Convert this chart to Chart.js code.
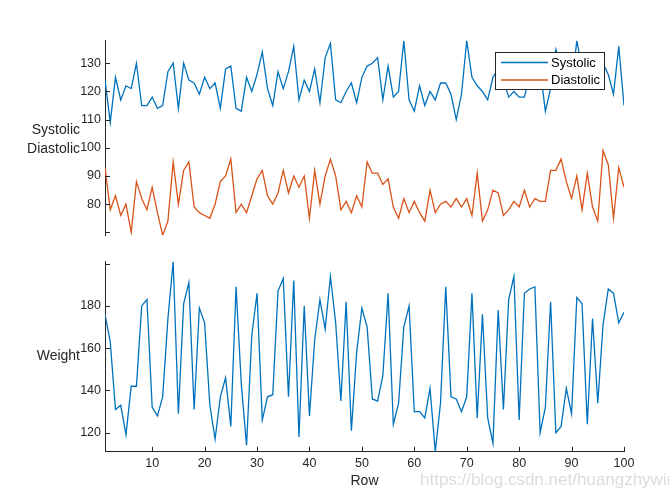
<!DOCTYPE html>
<html>
<head>
<meta charset="utf-8">
<title>Stacked plot</title>
<script src="https://cdn.jsdelivr.net/npm/chart.js@4.4.1/dist/chart.umd.min.js"></script>
<style>
  html, body { margin: 0; padding: 0; background: #fff; overflow: hidden; }
  #wrap { position: relative; width: 669px; height: 497px; overflow: hidden;
          font-family: "Liberation Sans", Arial, sans-serif; color: #262626; }
  #wrap canvas { position: absolute; left: 0; }
  .lbl { position: absolute; font-size: 14px; line-height: 19px; text-align: right; white-space: nowrap; }
  .mark { position: absolute; font-size: 17px; line-height: 20px; color: #dcdcdc; white-space: nowrap; }
</style>
</head>
<body>
<div id="wrap">
  <canvas id="topChart" width="669" height="250" style="top:0"></canvas>
  <canvas id="bottomChart" width="669" height="247" style="top:250px"></canvas>
  <div class="lbl" style="right:589px; top:120px">Systolic<br>Diastolic</div>
  <div class="lbl" style="right:589px; top:346px">Weight</div>
  <div class="mark" style="left:420px; top:470px">https://blog.csdn.net/huangzhywin</div>
</div>
<script>
// values, one per row (rows 1..100)
const systolic = [124, 109, 125, 117, 122, 121, 130, 115, 115, 118,
                  114, 115, 127, 130, 114, 130, 124, 123, 119, 125,
                  121, 123, 114, 128, 129, 114, 113, 125, 120, 126,
                  134, 121, 115, 127, 121, 127, 136, 117, 124, 120,
                  128, 116, 132, 137, 117, 116, 120, 123, 116, 125,
                  129, 130, 132, 117, 129, 118, 120, 138, 117, 113,
                  122, 115, 120, 117, 123, 123, 119, 110, 119, 138,
                  125, 122, 120, 117, 125, 128, 124, 118, 120, 118,
                  118, 126, 130, 128, 113, 121, 135, 129, 124, 122,
                  138, 128, 124, 123, 126, 130, 126, 119, 136, 115];

const diastolic = [93, 78, 83, 76, 80, 70, 88, 82, 78, 86,
                   77, 69, 74, 95, 80, 92, 95, 79, 77, 76,
                   75, 80, 88, 90, 96, 77, 80, 77, 83, 89,
                   92, 83, 80, 84, 92, 84, 90, 86, 90, 75,
                   92, 80, 90, 96, 90, 78, 81, 77, 83, 79,
                   95, 91, 91, 87, 89, 79, 75, 82, 77, 81,
                   77, 74, 85, 77, 80, 81, 79, 82, 79, 82,
                   76, 91, 74, 78, 85, 84, 76, 78, 81, 79,
                   85, 79, 82, 81, 81, 92, 92, 96, 88, 82,
                   90, 78, 91, 79, 74, 99, 94, 75, 93, 86];

const weight = [176, 163, 131, 133, 119, 142, 142, 180, 183, 132,
                128, 137, 174, 201, 129, 181, 191, 131, 179, 172,
                133, 117, 137, 146, 123, 189, 143, 114, 166, 186,
                126, 137, 138, 187, 193, 137, 192, 118, 180, 128,
                164, 183, 169, 194, 172, 135, 182, 121, 158, 179,
                170, 136, 135, 147, 186, 124, 134, 170, 180, 130,
                130, 127, 141, 111, 134, 189, 137, 136, 130, 137,
                186, 127, 176, 127, 115, 178, 131, 183, 194, 126,
                186, 188, 189, 120, 132, 182, 120, 123, 141, 129,
                184, 181, 124, 174, 134, 171, 188, 186, 172, 177];

const rowTicks = [10, 20, 30, 40, 50, 60, 70, 80, 90, 100];
const bpTicks = [70, 80, 90, 100, 110, 120, 130];
const bpTickLabels = ['', '80', '90', '100', '110', '120', '130'];
const weightTicks = [120, 140, 160, 180, 200];
const weightTickLabels = ['120', '140', '160', '180', ''];

const axisColor = '#262626';
const fontFamily = '"Liberation Sans", Arial, sans-serif';
const blue = '#0072BD';
const orange = '#D95319';

const toPoints = arr => arr.map((v, i) => ({ x: i + 1, y: v }));

// MATLAB style tick marks pointing into the plot
const inwardTicks = {
  id: 'inwardTicks',
  afterDraw(chart) {
    const ctx = chart.ctx;
    ctx.save();
    ctx.strokeStyle = axisColor;
    ctx.lineWidth = 1;
    ctx.beginPath();
    const ys = chart.scales.y;
    ys.ticks.forEach(t => {
      const py = Math.round(ys.getPixelForValue(t.value)) + 0.5;
      ctx.moveTo(ys.right, py);
      ctx.lineTo(ys.right + 5, py);
    });
    const xs = chart.scales.x;
    if (xs.options.display) {
      xs.ticks.forEach(t => {
        const px = Math.round(xs.getPixelForValue(t.value)) + 0.5;
        ctx.moveTo(px, xs.top);
        ctx.lineTo(px, xs.top - 5);
      });
    }
    ctx.stroke();
    ctx.restore();
  }
};

// legend box drawn inside the top panel
const boxLegend = {
  id: 'boxLegend',
  afterDatasetsDraw(chart) {
    const ctx = chart.ctx;
    ctx.save();
    ctx.fillStyle = '#fff';
    ctx.fillRect(495.5, 52.5, 109, 37);
    ctx.strokeStyle = axisColor;
    ctx.lineWidth = 1;
    ctx.strokeRect(495.5, 52.5, 109, 37);
    ctx.font = '13px ' + fontFamily;
    ctx.textBaseline = 'middle';
    chart.data.datasets.forEach((ds, i) => {
      const y = 62.5 + i * 17.5;
      ctx.strokeStyle = ds.borderColor;
      ctx.lineWidth = 1.3;
      ctx.beginPath();
      ctx.moveTo(501, y);
      ctx.lineTo(548, y);
      ctx.stroke();
      ctx.fillStyle = '#000';
      ctx.fillText(ds.label, 551, y + 0.5);
    });
    ctx.restore();
  }
};

function xScale(show) {
  const s = {
    type: 'linear',
    min: 1,
    max: 100,
    display: show,
    afterBuildTicks: sc => { sc.ticks = rowTicks.map(v => ({ value: v })); },
    grid: { display: false, drawTicks: false },
    border: { display: true, color: axisColor, width: 1 },
    ticks: { padding: 4, color: axisColor, font: { family: fontFamily, size: 12.5 }, maxRotation: 0 },
    title: { display: true, text: 'Row', color: axisColor, padding: 0,
             font: { family: fontFamily, size: 14 } }
  };
  if (show) s.afterFit = sc => { sc.height = 37.6; };
  return s;
}

function yScale(min, max, tickVals, tickLabels) {
  return {
    type: 'linear',
    min: min,
    max: max,
    afterBuildTicks: s => { s.ticks = tickVals.map(v => ({ value: v })); },
    afterFit: s => { s.width = 105; },
    grid: { display: false, drawTicks: false },
    border: { display: true, color: axisColor, width: 1 },
    ticks: { padding: 4, color: axisColor, font: { family: fontFamily, size: 12.5 },
             callback: (v, i) => tickLabels[i] }
  };
}

const common = {
  responsive: false,
  animation: false,
  devicePixelRatio: 1,
  plugins: { legend: { display: false }, tooltip: { enabled: false } },
  elements: { point: { radius: 0 }, line: { tension: 0, borderWidth: 1.3 } }
};

new Chart(document.getElementById('topChart'), {
  type: 'line',
  data: {
    datasets: [
      { label: 'Systolic', data: toPoints(systolic), borderColor: blue, backgroundColor: blue },
      { label: 'Diastolic', data: toPoints(diastolic), borderColor: orange, backgroundColor: orange }
    ]
  },
  options: Object.assign({}, common, {
    layout: { padding: { left: 0, right: 45, top: 40.7, bottom: 14.8 } },
    scales: {
      x: xScale(false),
      y: yScale(69, 138, bpTicks, bpTickLabels)
    }
  }),
  plugins: [inwardTicks, boxLegend]
});

new Chart(document.getElementById('bottomChart'), {
  type: 'line',
  data: {
    datasets: [
      { label: 'Weight', data: toPoints(weight), borderColor: blue, backgroundColor: blue }
    ]
  },
  options: Object.assign({}, common, {
    layout: { padding: { left: 0, right: 45, top: 11.2, bottom: 7.6 } },
    scales: {
      x: xScale(true),
      y: yScale(111, 201, weightTicks, weightTickLabels)
    }
  }),
  plugins: [inwardTicks]
});
</script>
</body>
</html>
